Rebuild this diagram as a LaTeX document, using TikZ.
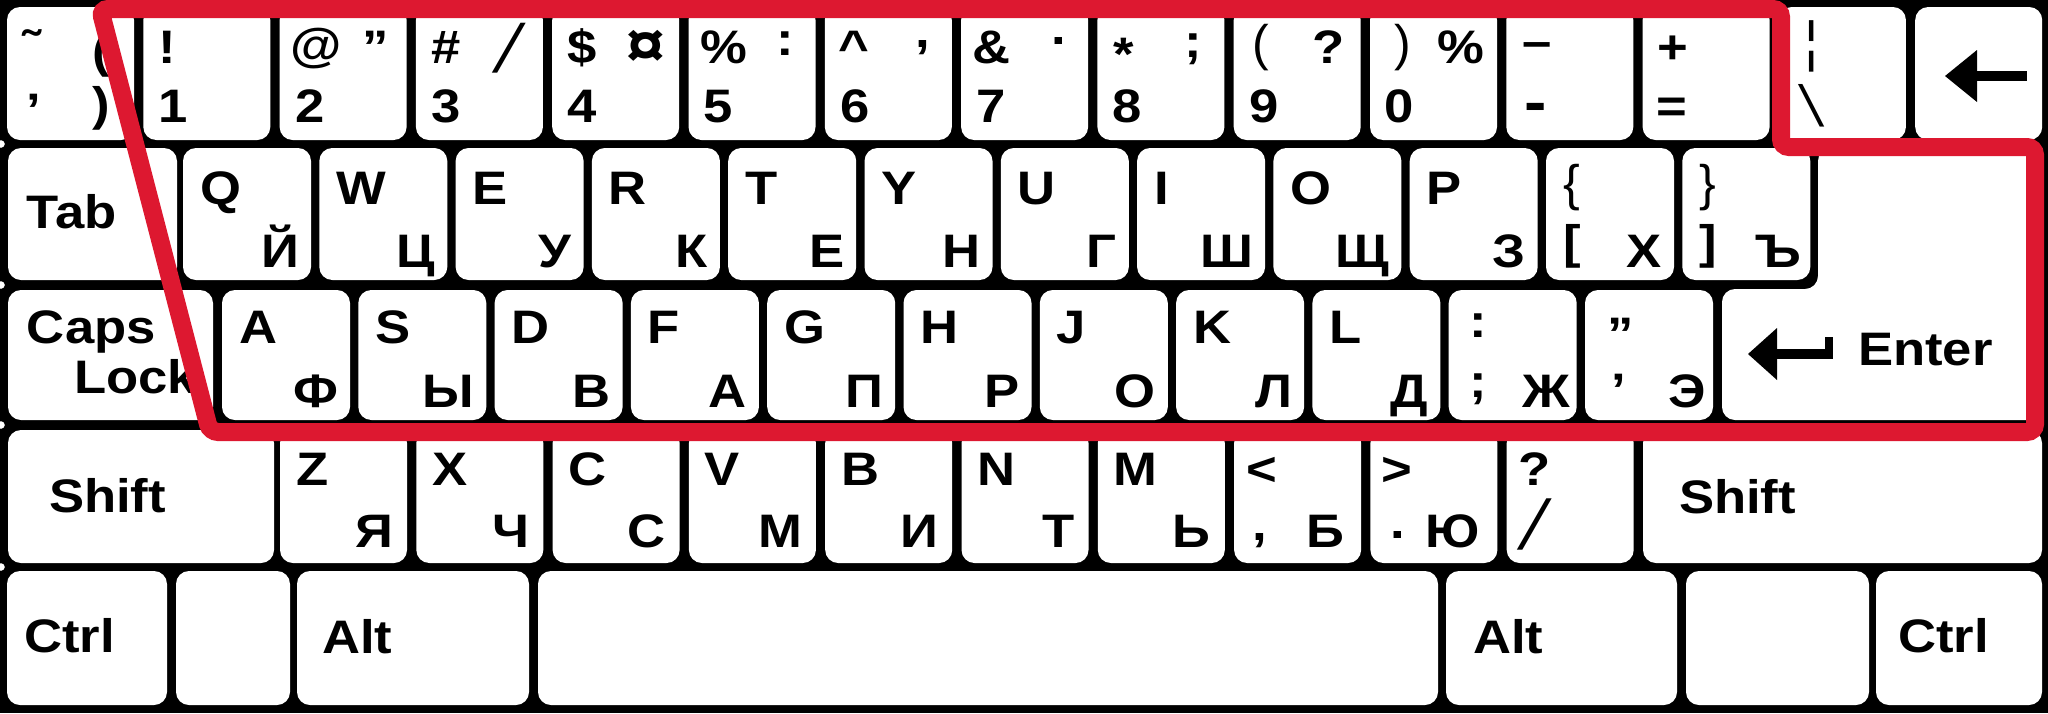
\documentclass[tikz,border=0pt]{standalone}
\usepackage{fontspec}
\setmainfont{Liberation Sans}[FakeStretch=1.12]
\newfontfamily\thinf{Liberation Sans}
\definecolor{kbred}{RGB}{221,24,48}
\tikzset{
  keycap/.style={fill=white, rounded corners=13pt},
  lab/.style={inner sep=0pt, outer sep=0pt, font=\fontsize{47}{47}\selectfont\bfseries},
  lw/.style={lab, anchor=base west},
  le/.style={lab, anchor=base east},
  thinlab/.style={inner sep=0pt, outer sep=0pt, anchor=base west, font=\thinf\fontsize{#1}{#1}\selectfont},
  biglab/.style={inner sep=0pt, outer sep=0pt, font=\fontsize{#1}{#1}\selectfont\bfseries},
  redframe/.style={draw=kbred, line width=18pt, rounded corners=8pt},
  edgedot/.style={fill=white, draw=black, line width=2pt},
}
\begin{document}
\begin{tikzpicture}[x=1pt,y=-1pt]
\useasboundingbox (0,0) rectangle (2048,713);
\fill[black] (0,0) rectangle (2048,713);
% ---------- key caps ----------
% row 1
\foreach \k in {0,...,14}{\fill[keycap] ({7+136.3*\k},7) rectangle ++(127,133);}
% row 2
\fill[keycap] (8,148) rectangle (177,280);
\foreach \k in {0,...,11}{\fill[keycap] ({183+136.3*\k},148) rectangle ++(128,132);}
\fill[keycap] (1818,148) -- (2042,148) -- (2042,420) -- (1722,420) -- (1722,289) -- (1818,289) -- cycle;
% row 3
\fill[keycap] (8,290) rectangle (213,420);
\foreach \k in {0,...,10}{\fill[keycap] ({222+136.3*\k},290) rectangle ++(128,130);}
% row 4
\fill[keycap] (8,430) rectangle (274,563);
\foreach \k in {0,...,9}{\fill[keycap] ({280+136.3*\k},430) rectangle ++(127,133);}
\fill[keycap] (1643,430) rectangle (2042,563);
% row 5
\fill[keycap] (7,571) rectangle (167,705);
\fill[keycap] (176,571) rectangle (290,705);
\fill[keycap] (297,571) rectangle (529,705);
\fill[keycap] (538,571) rectangle (1438,705);
\fill[keycap] (1446,571) rectangle (1677,705);
\fill[keycap] (1686,571) rectangle (1869,705);
\fill[keycap] (1876,571) rectangle (2042,705);
\foreach \y in {144,285,425,567}{\filldraw[edgedot] (1,\y) circle (5pt);}
% ---------- row 1 labels ----------
\node[lw] (k0a) at (22,63) {˜};
\node[lw] (k0b) at (92,67) {(};
\node[lw] (k0c) at (92,120) {)};
\node[lw] (k0d) at (27,126) {’};
\node[lw] (k1a) at (158,63) {!};
\node[lw] (k1b) at (158,122) {1};
\node[lw] (k2a) at (290,61) {@};
\node[le] (k2b) at (389,63) {”};
\node[lw] (k2c) at (295,122) {2};
\node[lw] (k3a) at (431,63) {\#};
\node[thinlab=68, xslant=0.3] (k3b) at (492,72) {/};
\node[lw] (k3c) at (431,122) {3};
\node[lw] (k4a) at (567,63) {\$};
\node[biglab=62, anchor=base east] (k4b) at (665,66) {¤};
\node[lw] (k4c) at (567,122) {4};
\node[lw] (k5a) at (700,63) {\%};
\node[le] (k5b) at (794,55) {:};
\node[lw] (k5c) at (703,122) {5};
\node[lw] (k6a) at (838,63) {\^{}};
\node[le] (k6b) at (930,47) {,};
\node[lw] (k6c) at (840,122) {6};
\node[lw] (k7a) at (972,63) {\&};
\node[le] (k7b) at (1066,44) {.};
\node[lw] (k7c) at (976,122) {7};
\node[lw] (k8a) at (1113,70) {*};
\node[le] (k8b) at (1202,57) {;};
\node[lw] (k8c) at (1112,122) {8};
\node[thinlab=50] (k9a) at (1252,60) {(};
\node[le] (k9b) at (1345,63) {?};
\node[lw] (k9c) at (1249,122) {9};
\node[thinlab=50] (k10a) at (1394,60) {)};
\node[le] (k10b) at (1484,63) {\%};
\node[lw] (k10c) at (1384,122) {0};
\node[lw] (k11a) at (1522,57) {–};
\node[biglab=60, anchor=base west] (k11b) at (1524,122) {-};
\node[lw] (k12a) at (1657,63) {+};
\node[lw] (k12b) at (1656,122) {=};
\node[thinlab=55] (k13a) at (1804,60) {¦};
\node[thinlab=58, xslant=-0.24] (k13b) at (1808,126) {\textbackslash};
\fill (1945,76) -- (1977,50) -- (1977,102) -- cycle;
\fill (1975,71) rectangle (2027,81);
% ---------- row 2 labels ----------
\node[lw] (tab) at (27,228) {Tab};
\foreach \a/\b [count=\i from 0] in {Q/Й,W/Ц,E/У,R/К,T/Е,Y/Н,U/Г,I/Ш,O/Щ,P/З}{
  \pgfmathsetmacro{\L}{183+136.3*\i}
  \node[lw] (q\i) at ({\L+17},204) {\a};
  \node[le] (qc\i) at ({\L+116},267) {\b};
}
\node[thinlab=50] (lbr) at (1563,200) {\{};
\node[lw] (lsq) at (1563,258) {[};
\node[le] (kha) at (1662,267) {Х};
\node[thinlab=50] (rbr) at (1699,200) {\}};
\node[lw] (rsq) at (1699,258) {]};
\node[le] (hard) at (1801,267) {Ъ};
% ---------- row 3 labels ----------
\node[lw] (caps) at (27,343) {Caps};
\node[lw] (lock) at (74,393) {Lock};
\foreach \a/\b [count=\i from 0] in {A/Ф,S/Ы,D/В,F/А,G/П,H/Р,J/О,K/Л,L/Д}{
  \pgfmathsetmacro{\L}{222+136.3*\i}
  \node[lw] (a\i) at ({\L+17},343) {\a};
  \node[le] (ac\i) at ({\L+116},407) {\b};
}
\node[lw] (colon) at (1469,337) {:};
\node[lw] (semi) at (1469,397) {;};
\node[le] (zhe) at (1570,407) {Ж};
\node[lw] (dq) at (1607,350) {”};
\node[lw] (sq) at (1611,406) {’};
\node[le] (ee) at (1706,407) {Э};
\fill (1748,354) -- (1777,328) -- (1777,380) -- cycle;
\fill (1775,349) rectangle (1833,359);
\fill (1825,337) rectangle (1833,359);
\node[lw] (enter) at (1858,365) {Enter};
% ---------- row 4 labels ----------
\node[lw] (shl) at (49,512) {Shift};
\foreach \a/\b [count=\i from 0] in {Z/Я,X/Ч,C/С,V/М,B/И,N/Т,M/Ь}{
  \pgfmathsetmacro{\L}{280+136.3*\i}
  \node[lw] (z\i) at ({\L+16},485) {\a};
  \node[le] (zc\i) at ({\L+113},547) {\b};
}
\node[lw] (lt) at (1246,485) {<};
\node[lw] (comma) at (1252,540) {,};
\node[le] (be) at (1344,547) {Б};
\node[lw] (gt) at (1381,485) {>};
\node[lw] (dot) at (1390,538) {.};
\node[le] (yu) at (1480,547) {Ю};
\node[lw] (qm) at (1518,485) {?};
\node[thinlab=70, xslant=0.3] (sl) at (1517,549) {/};
\node[lw] (shr) at (1679,513) {Shift};
% ---------- row 5 labels ----------
\node[lw] (ctl) at (24,652) {Ctrl};
\node[lw] (altl) at (322,653) {Alt};
\node[lw] (altr) at (1473,653) {Alt};
\node[lw] (ctr) at (1898,652) {Ctrl};
% ---------- red outline ----------
\draw[redframe] (100,9) -- (1781,9) -- (1781,147) -- (2035,147) -- (2035,432) -- (210,432) -- cycle;
\end{tikzpicture}
\end{document}
